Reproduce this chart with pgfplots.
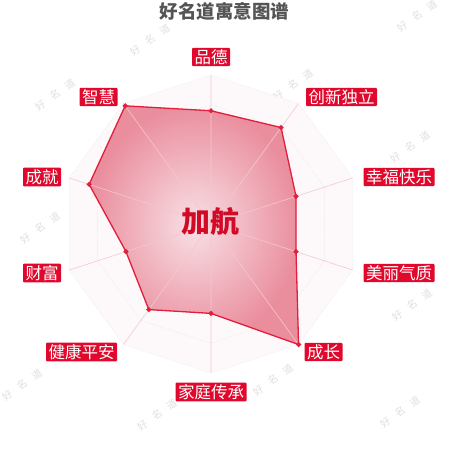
\documentclass[border=0pt]{standalone}
\usepackage{pgfplots}
\pgfplotsset{compat=1.18}
\usepackage{fontspec}
\newfontfamily\cjk{Noto Sans CJK SC}
\definecolor{labred}{RGB}{224,8,44}
\definecolor{linered}{RGB}{226,30,60}
\definecolor{titlegray}{RGB}{85,85,85}
\definecolor{wmgray}{RGB}{228,221,221}
\begin{document}
\begin{tikzpicture}
    \path[use as bounding box] (0,0) rectangle (450pt,450pt);
    % watermarks, one character at a time along a 35 degree line
    \foreach \wx/\wy in {150/40,417/16,55/95,293/85,410/147,40/228,412/305,22/385,273/380,157/415,400/412}
        \foreach \k/\ch in {-1/好,0/名,1/道}
            \node[wmgray, rotate=35, inner sep=0pt, font=\cjk\fontsize{10}{10}\selectfont]
                at (\wx pt+\k*14.8pt, 450pt-\wy pt+\k*10.4pt) {\ch};
    \begin{axis}[
        at={(211pt,226pt)}, anchor=center,
        x=1.49pt, y=1.49pt,
        xmin=-150, xmax=150, ymin=-150, ymax=150,
        axis lines=none, clip=false,
        ]
        % background
        \addplot[draw=none, fill={rgb,255:red,253;green,248;blue,249}, data cs=polar]
            coordinates {(90,100) (54,100) (18,100) (-18,100) (-54,100) (-90,100) (-126,100) (-162,100) (162,100) (126,100)} -- cycle;
        % rings
        \addplot[gray!25, densely dotted, data cs=polar] coordinates {(90,100) (54,100) (18,100) (-18,100) (-54,100) (-90,100) (-126,100) (-162,100) (162,100) (126,100)} -- cycle;
        \addplot[gray!25, densely dotted, data cs=polar] coordinates {(90,80) (54,80) (18,80) (-18,80) (-54,80) (-90,80) (-126,80) (-162,80) (162,80) (126,80)} -- cycle;
        \addplot[gray!25, densely dotted, data cs=polar] coordinates {(90,60) (54,60) (18,60) (-18,60) (-54,60) (-90,60) (-126,60) (-162,60) (162,60) (126,60)} -- cycle;
        \addplot[gray!25, densely dotted, data cs=polar] coordinates {(90,40) (54,40) (18,40) (-18,40) (-54,40) (-90,40) (-126,40) (-162,40) (162,40) (126,40)} -- cycle;
        \addplot[gray!25, densely dotted, data cs=polar] coordinates {(90,20) (54,20) (18,20) (-18,20) (-54,20) (-90,20) (-126,20) (-162,20) (162,20) (126,20)} -- cycle;
        % data area
        \addplot[draw=none, data cs=polar, inner color={rgb,255:red,248;green,224;blue,229}, outer color={rgb,255:red,234;green,142;blue,158}]
            coordinates {(90,76) (54,80) (18,60) (-18,60) (-54,100) (-90,60) (-126,71) (-162,60) (162,86) (126,98)} -- cycle;
        % spokes
        \addplot[color={rgb,255:red,243;green,200;blue,208}, line width=0.6pt, data cs=polar]
            coordinates {(90,0) (90,100) (54,0) (54,100) (18,0) (18,100) (-18,0) (-18,100) (-54,0) (-54,100) (-90,0) (-90,100) (-126,0) (-126,100) (-162,0) (-162,100) (162,0) (162,100) (126,0) (126,100)};
        % outline
        \addplot[linered, line width=1.3pt, data cs=polar, mark=*, mark size=1.8pt, mark options={fill=linered, draw=none}]
            coordinates {(90,76) (54,80) (18,60) (-18,60) (-54,100) (-90,60) (-126,71) (-162,60) (162,86) (126,98)} -- cycle;
    \end{axis}
    % title and centre name
    \node[titlegray, font=\cjk\bfseries\fontsize{18.5}{18.5}\selectfont] at (224.5pt,439pt) {好名道寓意图谱};
    \node[color={rgb,255:red,210;green,10;blue,40}, font=\cjk\bfseries\fontsize{29}{29}\selectfont] at (210pt,228pt) {加航};
    % axis names
    \tikzset{lab/.style={fill=labred, text=white, inner xsep=2.5pt, inner ysep=1.6pt, rounded corners=1pt, font=\cjk\fontsize{16.5}{16.5}\selectfont}}
    \node[lab] at (211pt,393pt) {品德};
    \node[lab] at (341.5pt,353pt) {创新独立};
    \node[lab] at (399pt,273pt) {幸福快乐};
    \node[lab] at (399pt,177pt) {美丽气质};
    \node[lab] at (323.5pt,98pt) {成长};
    \node[lab] at (211pt,58pt) {家庭传承};
    \node[lab] at (81.5pt,98pt) {健康平安};
    \node[lab] at (42pt,177pt) {财富};
    \node[lab] at (42pt,273pt) {成就};
    \node[lab] at (98.5pt,353pt) {智慧};
\end{tikzpicture}
\end{document}
